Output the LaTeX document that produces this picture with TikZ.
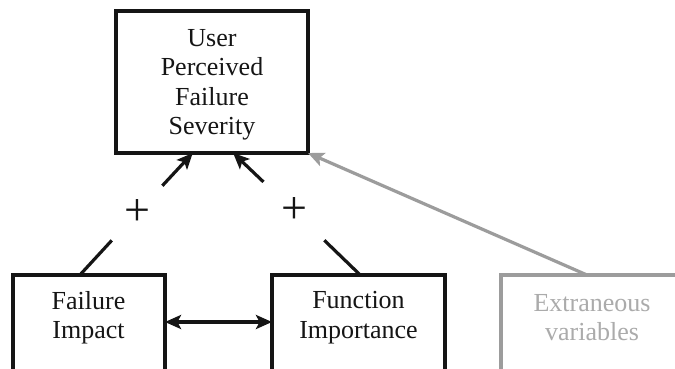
\documentclass[tikz,border=0pt]{standalone}
\usepackage{fontspec}
\setmainfont{Liberation Serif}
\usetikzlibrary{arrows.meta,calc}
\definecolor{ink}{HTML}{151515}
\definecolor{faint}{HTML}{9C9C9C}
\definecolor{fainttext}{HTML}{ABABAB}
\begin{document}
\begin{tikzpicture}[x=1pt,y=-1pt,
  box/.style={draw=ink, line width=3.2pt, inner sep=0pt, outer sep=0pt, anchor=north west},
  greybox/.style={box, draw=faint},
  txt/.style={font=\fontsize{26}{29.5}\selectfont, align=center, text=ink, inner sep=0pt},
  greytxt/.style={txt, text=fainttext},
  gap/.style={circle, inner sep=0pt, font=\fontsize{46}{46}\selectfont, text=ink},
  conn/.style={draw=ink, line width=3.2pt},
  head/.style={-{Stealth[length=16pt,width=14pt,inset=3.5pt]}},
  twohead/.style={{Stealth[length=16pt,width=14pt,inset=3.5pt]}-{Stealth[length=16pt,width=14pt,inset=3.5pt]}},
]
\useasboundingbox (0,0) rectangle (675,369);
\clip (0,0) rectangle (675,369);
\fill[white] (0,0) rectangle (675,369);

% boxes (the lower row runs past the bottom edge)
\node[box, minimum width=192pt, minimum height=142pt] (ups) at (116,11) {};
\node[txt] (upstext) at (212,85) {User\\Perceived\\Failure\\Severity};

\node[box, minimum width=152pt, minimum height=130pt] (fi) at (13,275) {};
\node[txt] (fitext) at (88.5,317.5) {Failure\\Impact};

\node[box, minimum width=173pt, minimum height=130pt] (fimp) at (272,275) {};
\node[txt] (fimptext) at (358.5,317.5) {Function\\Importance};

\node[greybox, minimum width=219pt, minimum height=130pt] (ext) at (501,275) {};
\node[greytxt] (exttext) at (592,317.5) {Extraneous\\variables};

% plus signs interrupting the two influence arrows
\node[gap, minimum size=74pt] (p1) at (137,213) {+};
\node[gap, minimum size=84pt] (p2) at (294,211) {+};

% influence arrows
\coordinate (fiout) at ($(fi.north west)!0.44!(fi.north east)$);
\coordinate (fimpout) at ($(fimp.north west)!0.51!(fimp.north east)$);
\coordinate (upsin1) at ($(ups.south west)!0.40!(ups.south east)$);
\coordinate (upsin2) at ($(ups.south west)!0.61!(ups.south east)$);
\coordinate (extout) at ($(ext.north west)+(86,0)$);

\draw[conn] (fiout) -- (p1);
\draw[conn, head] (p1) -- (upsin1);
\draw[conn] (fimpout) -- (p2);
\draw[conn, head] (p2) -- (upsin2);
\draw[conn, draw=faint, color=faint, head] (extout) -- (ups.south east);

% mutual relation between the two factors
\draw[conn, twohead] ($(fi.north east)+(0,47)$) -- ($(fimp.north west)+(0,47)$);
\end{tikzpicture}
\end{document}
